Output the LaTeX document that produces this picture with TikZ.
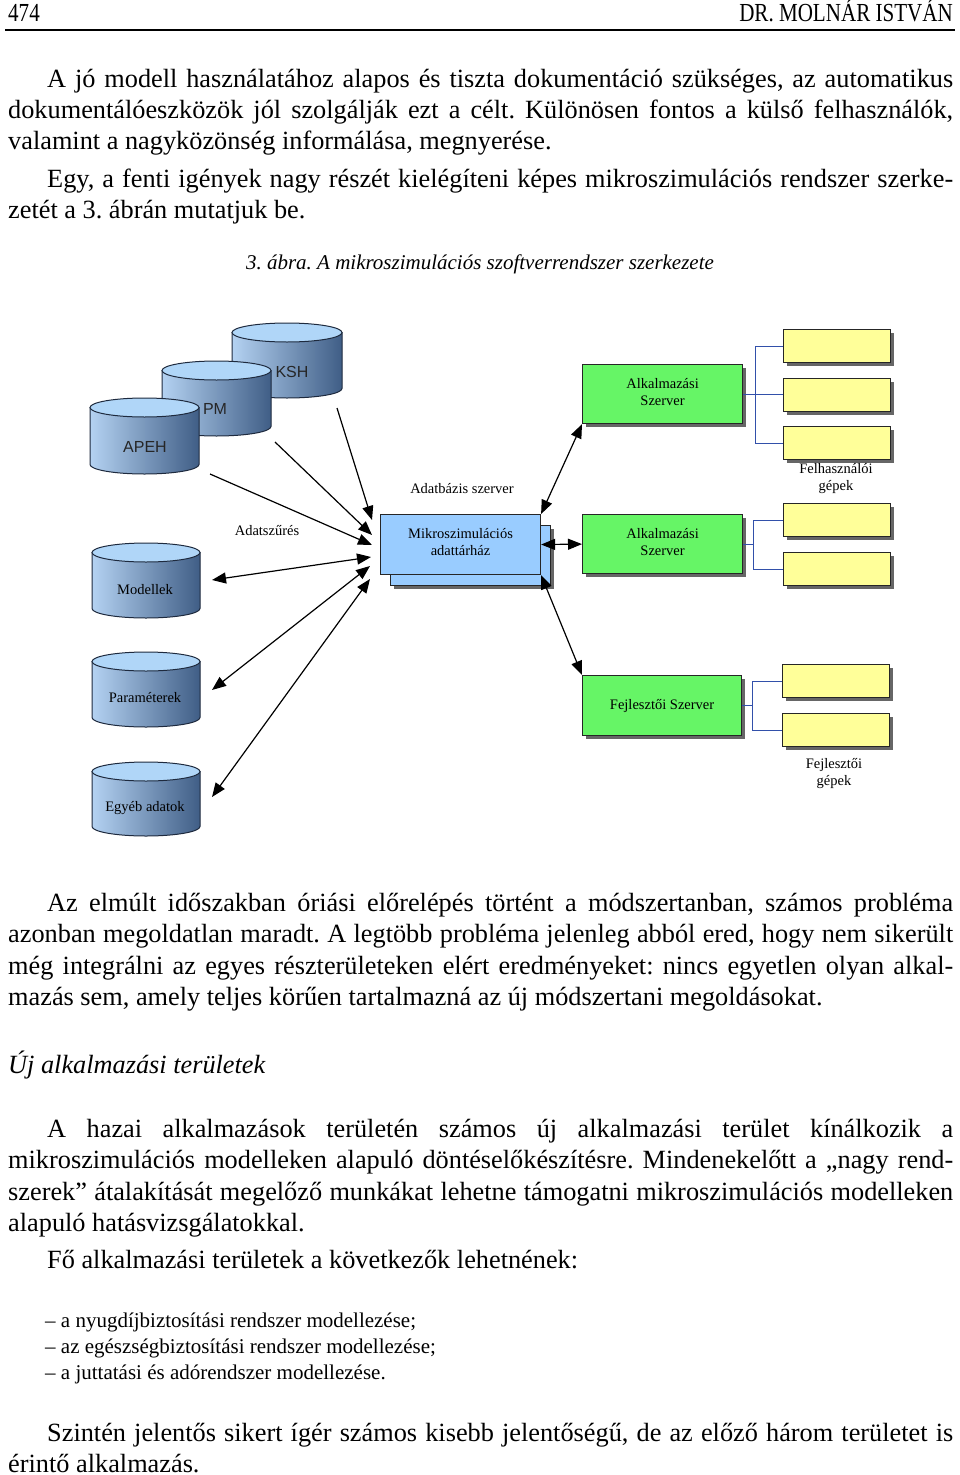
\documentclass[tikz,border=0pt]{standalone}
\usepackage{graphicx}
\usepackage{fontspec}
\setmainfont{Liberation Serif}
\newfontfamily\arialf{Liberation Sans}
\usetikzlibrary{arrows.meta,shadows}
\frenchspacing
\definecolor{cylL}{RGB}{180,210,242}
\definecolor{cylR}{RGB}{64,94,134}
\definecolor{cylT}{RGB}{176,214,248}
\definecolor{cylE}{RGB}{30,42,62}
\definecolor{srvgreen}{RGB}{102,245,102}
\definecolor{uyellow}{RGB}{255,255,153}
\definecolor{mikblue}{RGB}{153,204,255}
\definecolor{brblue}{RGB}{50,80,170}
\newcommand\dbcyl[4]{%
 \pgfmathsetmacro\cylcx{(#1+#2)/2}%
 \pgfmathsetmacro\cylrx{(#2-#1)/2}%
 \pgfmathsetmacro\cylyt{-(#3)-9.5}%
 \pgfmathsetmacro\cylyb{-(#4)+9.5}%
 \shadedraw[cylbody] (#1,\cylyt) -- (#1,\cylyb) arc[start angle=180,end angle=360,x radius=\cylrx pt,y radius=9.5pt] -- (#2,\cylyt) -- cycle;
 \filldraw[cyltop] (\cylcx,\cylyt) ellipse[x radius=\cylrx pt,y radius=9.5pt];}
\newcommand\jline[5]{\node[txt,anchor=base west] (#1) at (#2,-#3) {\makebox[#4pt][s]{#5}};}
\newcommand\pline[4]{\node[txt,anchor=base west] (#1) at (#2,-#3) {#4};}
\begin{document}
\begin{tikzpicture}[x=1pt,y=1pt,
 txt/.style={inner sep=0pt, font=\fontsize{26.3}{31}\selectfont},
 smalltxt/.style={inner sep=0pt, font=\fontsize{21}{26}\selectfont},
 lbl/.style={inner sep=0pt, align=center, font=\fontsize{14.5}{17}\selectfont},
 sanslbl/.style={inner sep=0pt, font=\arialf\fontsize{16}{16}\selectfont, text=black!85},
 shad/.style={drop shadow={shadow xshift=3pt,shadow yshift=-3pt,fill=black!60,opacity=1}},
 srv/.style={draw=black!85, line width=1.2pt, fill=srvgreen, shad, minimum width=160pt, minimum height=59pt, anchor=north west, inner sep=0pt, align=center, font=\fontsize{14.5}{17}\selectfont},
 ubox/.style={draw=black!85, line width=1.1pt, fill=uyellow, shad, minimum width=107pt, minimum height=33pt, anchor=north west, inner sep=0pt},
 mbox/.style={draw=black!85, line width=1.1pt, fill=mikblue, minimum width=160pt, minimum height=60pt, anchor=north west, inner sep=0pt, align=center, font=\fontsize{14.5}{17}\selectfont},
 br/.style={draw=brblue, line width=1pt},
 arr/.style={line width=1.2pt, -{Triangle[length=14pt,width=11pt]}},
 darr/.style={line width=1.2pt, {Triangle[length=14pt,width=11pt]}-{Triangle[length=14pt,width=11pt]}},
 cylbody/.style={left color=cylL, right color=cylR, draw=cylE, line width=1pt},
 cyltop/.style={fill=cylT, draw=cylE, line width=1pt}]
\useasboundingbox (0,0) rectangle (960,-1475);
% header
\node[inner sep=0pt,anchor=base west] (pgno) at (8,-21.5) {\scalebox{0.81}[1]{\fontsize{26}{26}\selectfont 474}};
\node[inner sep=0pt,anchor=base east] (author) at (953,-21.5) {\scalebox{0.81}[1]{\fontsize{26}{26}\selectfont DR. MOLNÁR ISTVÁN}};
\draw[line width=1.5pt] (5,-30) -- (955,-30);
% paragraphs
\jline{p1a}{47}{87}{906}{A jó modell használatához alapos és tiszta dokumentáció szükséges, az automatikus}
\jline{p1b}{8}{118}{945}{dokumentálóeszközök jól szolgálják ezt a célt. Különösen fontos a külső felhasználók,}
\pline{p1c}{8}{149}{valamint a nagyközönség informálása, megnyerése.}
\jline{p2a}{47}{187}{906}{Egy, a fenti igények nagy részét kielégíteni képes mikroszimulációs rendszer szerke-}
\pline{p2b}{8}{218}{zetét a 3. ábrán mutatjuk be.}
\node[smalltxt,anchor=base] (cap) at (480,-269) {\itshape 3. ábra. A mikroszimulációs szoftverrendszer szerkezete};
% cylinders
\dbcyl{232}{342}{323}{398}
\node[sanslbl] (ksh) at (292,-372) {KSH};
\dbcyl{162}{271}{361}{436}
\node[sanslbl] (pm) at (215,-409) {PM};
\dbcyl{90}{199}{398}{474}
\node[sanslbl] (apeh) at (145,-447) {APEH};
\dbcyl{92}{200}{543}{618}
\node[lbl] (modellek) at (145,-590) {Modellek};
\dbcyl{92}{200}{652}{727}
\node[lbl] (param) at (145,-698) {Paraméterek};
\dbcyl{92}{200}{762}{836}
\node[lbl] (egyeb) at (145,-808) {Egyéb adatok};
% central boxes
\node[mbox, shad] (mikback) at (390,-525) {};
\node[mbox] (mikro) at (380,-514) {Mikroszimulációs\\adattárház\rule[-5pt]{0pt}{1pt}};
\node[srv] (alk1) at (582,-364) {Alkalmazási\\Szerver\rule[-5pt]{0pt}{1pt}};
\node[srv] (alk2) at (582,-514) {Alkalmazási\\Szerver\rule[-5pt]{0pt}{1pt}};
\node[srv, minimum width=159pt, minimum height=60pt] (fejl) at (582,-675) {Fejlesztői Szerver};
% yellow boxes
\node[ubox] (u1) at (783,-329) {};
\node[ubox] (u2) at (783,-378) {};
\node[ubox] (u3) at (783,-426) {};
\node[ubox] (u4) at (783,-503) {};
\node[ubox] (u5) at (783,-552) {};
\node[ubox] (u6) at (782,-664) {};
\node[ubox] (u7) at (782,-713) {};
% brackets
\draw[br] (u1.west) -- ++(-28,0) |- (u3.west);
\draw[br] (alk1.east) -- (alk1.east -| u2.west);
\draw[br] (u4.west) -- ++(-30,0) |- (u5.west);
\draw[br] (alk2.east) -- ([xshift=-30pt]u4.west |- alk2.east);
\draw[br] (u6.west) -- ++(-30,0) |- (u7.west);
\draw[br] (fejl.east) -- ([xshift=-30pt]u6.west |- fejl.east);
% labels
\node[lbl] (dbsz) at (462,-489) {Adatbázis szerver};
\node[lbl] (aszr) at (267,-531) {Adatszűrés};
\node[lbl] (felh) at (836,-479) {Felhasználói\\gépek};
\node[lbl] (fejg) at (834,-774) {Fejlesztői\\gépek};
% arrow coordinates
\coordinate (kshS) at (337,-408);
\coordinate (kshT) at (372,-520);
\coordinate (pmS) at (275,-442);
\coordinate (pmT) at (372,-535);
\coordinate (apehS) at (210,-474);
\coordinate (apehT) at (372,-545);
\coordinate (modS) at (212,-580);
\coordinate (modT) at (371,-557);
\coordinate (parS) at (212,-690);
\coordinate (parT) at (370,-566);
\coordinate (egyS) at (212,-797);
\coordinate (egyT) at (370,-579);
\draw[arr] (kshS) -- (kshT);
\draw[arr] (pmS) -- (pmT);
\draw[arr] (apehS) -- (apehT);
\draw[darr] (modS) -- (modT);
\draw[darr] (parS) -- (parT);
\draw[darr] (egyS) -- (egyT);
\draw[darr] (mikro.north east) -- (alk1.south west);
\draw[darr] (mikro.east) -- (alk2.west);
\draw[darr] (mikro.south east) -- (fejl.north west);
% lower text
\jline{p3a}{47}{911}{906}{Az elmúlt időszakban óriási előrelépés történt a módszertanban, számos probléma}
\jline{p3b}{8}{942}{945}{azonban megoldatlan maradt. A legtöbb probléma jelenleg abból ered, hogy nem sikerült}
\jline{p3c}{8}{974}{945}{még integrálni az egyes részterületeken elért eredményeket: nincs egyetlen olyan alkal-}
\pline{p3d}{8}{1005}{mazás sem, amely teljes körűen tartalmazná az új módszertani megoldásokat.}
\pline{h1}{8}{1073}{\itshape Új alkalmazási területek}
\jline{p4a}{47}{1137}{906}{A hazai alkalmazások területén számos új alkalmazási terület kínálkozik a}
\jline{p4b}{8}{1168}{945}{mikroszimulációs modelleken alapuló döntéselőkészítésre. Mindenekelőtt a „nagy rend-}
\jline{p4c}{8}{1200}{945}{szerek” átalakítását megelőző munkákat lehetne támogatni mikroszimulációs modelleken}
\pline{p4d}{8}{1231}{alapuló hatásvizsgálatokkal.}
\pline{p5}{47}{1268}{Fő alkalmazási területek a következők lehetnének:}
\node[smalltxt,anchor=base west] (li1) at (45,-1327) {– a nyugdíjbiztosítási rendszer modellezése;};
\node[smalltxt,anchor=base west] (li2) at (45,-1353) {– az egészségbiztosítási rendszer modellezése;};
\node[smalltxt,anchor=base west] (li3) at (45,-1379) {– a juttatási és adórendszer modellezése.};
\jline{p6a}{47}{1441}{906}{Szintén jelentős sikert ígér számos kisebb jelentőségű, de az előző három területet is}
\pline{p6b}{8}{1472}{érintő alkalmazás.}
\end{tikzpicture}
\end{document}
